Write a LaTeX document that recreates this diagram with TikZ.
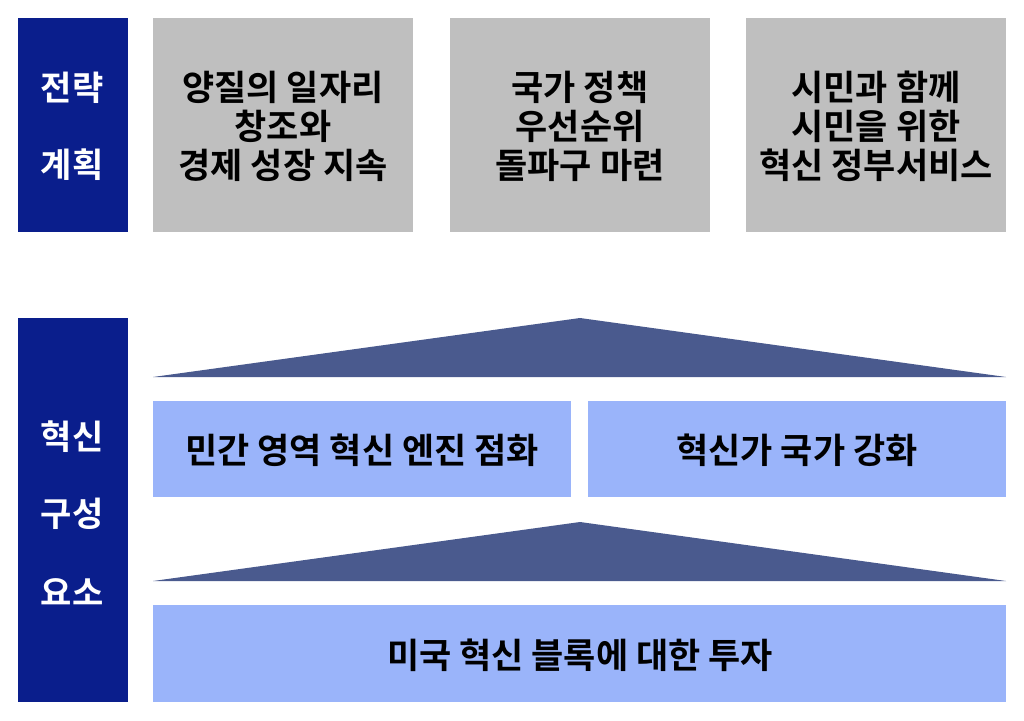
\documentclass[tikz,border=0pt]{standalone}
\usepackage{fontspec}
\setmainfont{Noto Sans CJK KR}[BoldFont={Noto Sans CJK KR Bold}]
\definecolor{dkblue}{RGB}{10,30,140}
\definecolor{gbox}{RGB}{191,191,191}
\definecolor{lblue}{RGB}{154,180,250}
\definecolor{roof}{RGB}{74,90,142}
\tikzset{
  side/.style={fill=dkblue,draw=none},
  goal/.style={fill=gbox,draw=none},
  pillar/.style={fill=lblue,draw=none},
  rooftri/.style={fill=roof,draw=none},
  lbl/.style={font=\fontsize{35}{39}\selectfont\bfseries,align=center,inner sep=0pt},
  wlbl/.style={lbl,font=\fontsize{34}{39}\selectfont\bfseries,text=white},
}
\begin{document}
\begin{tikzpicture}[x=1pt,y=-1pt]
\useasboundingbox (0,0) rectangle (1024,720);
% left side bars
\fill[side] (18,18) rectangle (128,232);
\fill[side] (18,318) rectangle (128,702);
\node[wlbl] (s1) at (72,88) {전략};
\node[wlbl] (s2) at (72,165) {계획};
\node[wlbl] (s3) at (72,437) {혁신};
\node[wlbl] (s4) at (72,514) {구성};
\node[wlbl] (s5) at (72,592) {요소};
% goal boxes
\fill[goal] (153,18) rectangle (413,232);
\fill[goal] (450,18) rectangle (710,232);
\fill[goal] (746,18) rectangle (1006,232);
\node[lbl] (g1) at (283,126) {양질의 일자리\\창조와\\경제 성장 지속};
\node[lbl] (g2) at (580,126) {국가 정책\\우선순위\\돌파구 마련};
\node[lbl] (g3) at (876,126) {시민과 함께\\시민을 위한\\혁신 정부서비스};
% roofs
\fill[rooftri] (153,377) -- (580,318) -- (1006,377) -- cycle;
\fill[rooftri] (153,581) -- (580,522) -- (1006,581) -- cycle;
% pillars
\fill[pillar] (153,401) rectangle (571,497);
\fill[pillar] (588,401) rectangle (1006,497);
\fill[pillar] (153,605) rectangle (1006,702);
\node[lbl] (p1) at (362,450) {민간 영역 혁신 엔진 점화};
\node[lbl] (p2) at (797,450) {혁신가 국가 강화};
\node[lbl] (p3) at (580,655) {미국 혁신 블록에 대한 투자};
\end{tikzpicture}
\end{document}
